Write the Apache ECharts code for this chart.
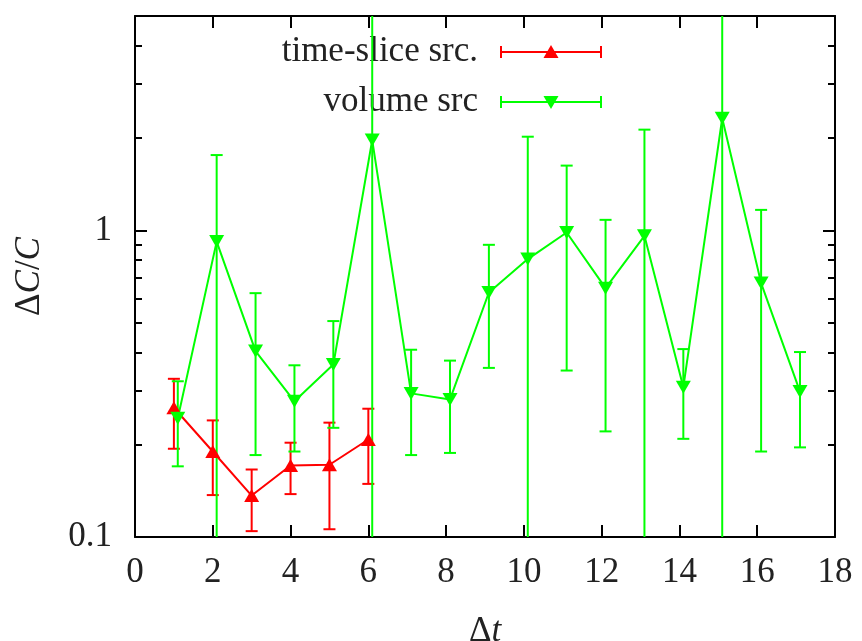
<!DOCTYPE html>
<html>
<head>
<meta charset="utf-8">
<script src="https://cdn.jsdelivr.net/npm/echarts@6/dist/echarts.min.js"></script>
<style>
	html, body { margin: 0; padding: 0; background: #fff; }
	#chart { width: 862px; height: 641px; }
</style>
</head>
<body>
<div id="chart"></div>
<script>
var sliceX = [1, 2, 3, 4, 5, 6];
var sliceY = [0.264, 0.190, 0.1365, 0.171, 0.172, 0.208];
var sliceLo = [0.194, 0.137, 0.1045, 0.138, 0.106, 0.149];
var sliceHi = [0.328, 0.240, 0.166, 0.203, 0.236, 0.262];

var volumeX = [1.1, 2.1, 3.1, 4.1, 5.1, 6.1, 7.1, 8.1, 9.1, 10.1, 11.1, 12.1, 13.1, 14.1, 15.1, 16.1, 17.1];
var volumeY = [0.244, 0.919, 0.404, 0.277, 0.365, 1.97, 0.294, 0.281, 0.627, 0.806, 0.984, 0.648, 0.96, 0.308, 2.32, 0.673, 0.298];
// 0.05 / 20 = bar runs off the plot
var volumeLo = [0.170, 0.05, 0.185, 0.190, 0.227, 0.05, 0.185, 0.188, 0.356, 0.05, 0.349, 0.221, 0.05, 0.209, 0.05, 0.190, 0.196];
var volumeHi = [0.322, 1.76, 0.624, 0.363, 0.506, 20, 0.408, 0.376, 0.897, 2.02, 1.626, 1.082, 2.13, 0.410, 20, 1.166, 0.401];

var yMajor = [0.1, 1];
var yMinor = [0.2, 0.3, 0.4, 0.5, 0.6, 0.7, 0.8, 0.9, 2, 3, 4, 5];

var FONT = '"Liberation Serif", "Times New Roman", serif';

function pairs(xs, ys) {
	return xs.map(function(x, i) { return [x, ys[i]]; });
}

function bars(xs, lo, hi) {
	return xs.map(function(x, i) { return [x, lo[i], hi[i]]; });
}

function renderErr(params, api) {
	var x = api.value(0);
	var p1 = api.coord([x, api.value(1)]);
	var p2 = api.coord([x, api.value(2)]);
	var w = 6;
	var style = { stroke: api.visual('color'), lineWidth: 2 };
	return {
		type: 'group',
		children: [
			{ type: 'line', shape: { x1: p1[0], y1: p1[1], x2: p2[0], y2: p2[1] }, style: style },
			{ type: 'line', shape: { x1: p1[0] - w, y1: p1[1], x2: p1[0] + w, y2: p1[1] }, style: style },
			{ type: 'line', shape: { x1: p2[0] - w, y1: p2[1], x2: p2[0] + w, y2: p2[1] }, style: style }
		]
	};
}

function yAxisBox(pos, values, len, labels) {
	return {
		type: 'log',
		position: pos,
		min: 0.1,
		max: 5,
		axisLine: { show: labels, lineStyle: { color: '#000', width: 2 } },
		axisTick: { inside: true, length: len, customValues: values, lineStyle: { color: '#000', width: 2 } },
		axisLabel: {
			show: labels && pos === 'left',
			customValues: yMajor,
			margin: 23,
			fontFamily: FONT,
			fontSize: 35,
			color: '#222',
			formatter: function(v) { return String(v); }
		},
		splitLine: { show: false },
		minorTick: { show: false }
	};
}

// gnuplot style key: text right-aligned, sample with caps and marker
function keyRow(y, label, color, rot) {
	var x1 = 501, x2 = 601, cx = 551;
	var st = { stroke: color, lineWidth: 2 };
	return [
		{ type: 'text', x: 478, y: y, style: { text: label, font: '35px ' + FONT, fill: '#222', align: 'right', verticalAlign: 'middle' } },
		{ type: 'line', shape: { x1: x1, y1: y, x2: x2, y2: y }, style: st },
		{ type: 'line', shape: { x1: x1, y1: y - 6, x2: x1, y2: y + 6 }, style: st },
		{ type: 'line', shape: { x1: x2, y1: y - 6, x2: x2, y2: y + 6 }, style: st },
		{ type: 'polygon', shape: { points: rot ? [[cx - 7.5, y - 6], [cx + 7.5, y - 6], [cx, y + 7]] : [[cx - 7.5, y + 6], [cx + 7.5, y + 6], [cx, y - 7]] }, style: { fill: color } }
	];
}

var myChart = echarts.init(document.getElementById('chart'));
var option = {
	animation: false,
	backgroundColor: '#fff',
	grid: { left: 135, right: 27, top: 16, bottom: 104, outerBoundsMode: 'none', containLabel: false },
	xAxis: [{
		type: 'value',
		position: 'bottom',
		min: 0,
		max: 18,
		interval: 2,
		name: '{n|Δ}{i|t}',
		nameLocation: 'middle',
		nameGap: 77,
		nameTextStyle: {
			rich: {
				n: { fontFamily: FONT, fontSize: 35, color: '#222' },
				i: { fontFamily: FONT, fontSize: 35, fontStyle: 'italic', color: '#222' }
			}
		},
		axisLine: { lineStyle: { color: '#000', width: 2 } },
		axisTick: { inside: true, length: 12, lineStyle: { color: '#000', width: 2 } },
		axisLabel: { margin: 18, fontFamily: FONT, fontSize: 35, color: '#222' },
		splitLine: { show: false }
	}, {
		type: 'value',
		position: 'top',
		min: 0,
		max: 18,
		interval: 2,
		axisLine: { lineStyle: { color: '#000', width: 2 } },
		axisTick: { inside: true, length: 12, lineStyle: { color: '#000', width: 2 } },
		axisLabel: { show: false },
		splitLine: { show: false }
	}],
	yAxis: [
		yAxisBox('left', yMajor, 12, true),
		yAxisBox('left', yMinor, 7, false),
		yAxisBox('right', yMajor, 12, true),
		yAxisBox('right', yMinor, 7, false)
	],
	graphic: keyRow(52, 'time-slice src.', '#ff0000', false).concat(keyRow(102, 'volume src', '#00ff00', true)),
	series: [{
		name: 'time-slice src. err',
		type: 'custom',
		clip: true,
		color: '#ff0000',
		renderItem: renderErr,
		encode: { x: 0, y: [1, 2] },
		data: bars(sliceX, sliceLo, sliceHi)
	}, {
		name: 'time-slice src.',
		type: 'line',
		color: '#ff0000',
		symbol: 'triangle',
		symbolSize: [15, 13],
		lineStyle: { width: 2 },
		data: pairs(sliceX, sliceY)
	}, {
		name: 'volume src err',
		type: 'custom',
		clip: true,
		color: '#00ff00',
		renderItem: renderErr,
		encode: { x: 0, y: [1, 2] },
		data: bars(volumeX, volumeLo, volumeHi)
	}, {
		name: 'volume src',
		type: 'line',
		color: '#00ff00',
		symbol: 'triangle',
		symbolRotate: 180,
		symbolSize: [15, 13],
		lineStyle: { width: 2 },
		data: pairs(volumeX, volumeY)
	}]
};
// axis title with italic C
option.yAxis[0].name = '{n|Δ}{i|C}{n|/}{i|C}';
option.yAxis[0].nameLocation = 'middle';
option.yAxis[0].nameRotate = 90;
option.yAxis[0].nameGap = 88;
option.yAxis[0].nameTextStyle = {
	rich: {
		n: { fontFamily: FONT, fontSize: 35, color: '#222' },
		i: { fontFamily: FONT, fontSize: 35, fontStyle: 'italic', color: '#222' }
	}
};
myChart.setOption(option);
</script>
</body>
</html>
